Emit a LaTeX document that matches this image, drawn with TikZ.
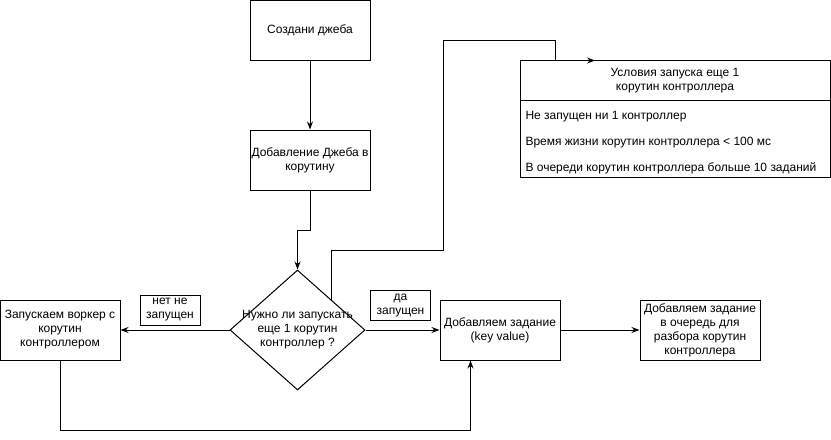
\documentclass[tikz,border=0pt]{standalone}
\usepackage{fontspec}
\setmainfont{Liberation Sans}
\usetikzlibrary{shapes.geometric,arrows.meta}

\begin{document}
\begin{tikzpicture}[x=0.75pt, y=-0.75pt, line width=0.75pt, >={Stealth[length=6pt,width=4.5pt]},
        font=\fontsize{9}{10.5}\selectfont,
        step box/.style={rectangle, draw, minimum width=90pt, minimum height=45pt, align=center, inner sep=1pt},
        cond node/.style={diamond, draw, minimum width=101.25pt, minimum height=90pt, inner sep=0pt},
        tag box/.style={rectangle, draw, minimum width=45pt, minimum height=22.5pt, align=center, inner sep=1pt},
        table box/.style={rectangle, draw, minimum width=232.5pt, outer sep=0pt, align=center},
        row text/.style={anchor=west, inner sep=0pt}]
    \useasboundingbox (0,0) rectangle (831,439);
    \node[step box] (created) at (310,30) {Создани джеба};
    \node[step box] (addjob) at (310,160) {Добавление Джеба в\\корутину};
    \node[cond node] (check) at (297.5,330) {};
    \node[align=center, inner sep=0pt] (checktext) at (check.center) {Нужно ли запускать\\еще 1 корутин\\контроллер ?};
    \node[step box] (worker) at (60,330) {Запускаем воркер с\\корутин\\контроллером};
    \node[tag box] (no) at (170,310) {нет не\\запущен};
    \node[tag box] (yes) at (400.5,305.5) {да\\запущен};
    \node[step box] (addtask) at (500,330) {Добавляем задание\\(key value)};
    \node[step box] (queue) at (700,330) {Добавляем задание\\в очередь для\\разбора корутин\\контроллера};
    % conditions table
    \node[table box, minimum height=30pt] (condhead) at (675,80.5) {Условия запуска еще 1\\корутин контроллера};
    \node[table box, minimum height=57.4pt, anchor=north] (condbody) at (condhead.south) {};
    \node[row text] (cond1) at (525,117) {Не запущен ни 1 контроллер};
    \node[row text] (cond2) at (525,142.5) {Время жизни корутин контроллера < 100 мс};
    \node[row text] (cond3) at (525,168) {В очереди корутин контроллера больше 10 заданий};
    \coordinate (condin) at (595,60.5);
    \coordinate (loop) at (470.5,430);
    \draw[->] (created) -- (addjob);
    \draw[->] (addjob.south) -- ++(0,40) -| (check.north);
    \draw[->] (check.west) -- (worker.east);
    \draw[->] (check.east) -- (addtask.west);
    \draw[->] (addtask) -- (queue);
    \draw[->] (worker.south) |- (loop) -- (addtask.south -| loop);
    \draw[->] (check.north east) |- (443,250.5) |- (555.5,40.5) |- (condin);
\end{tikzpicture}
\end{document}
